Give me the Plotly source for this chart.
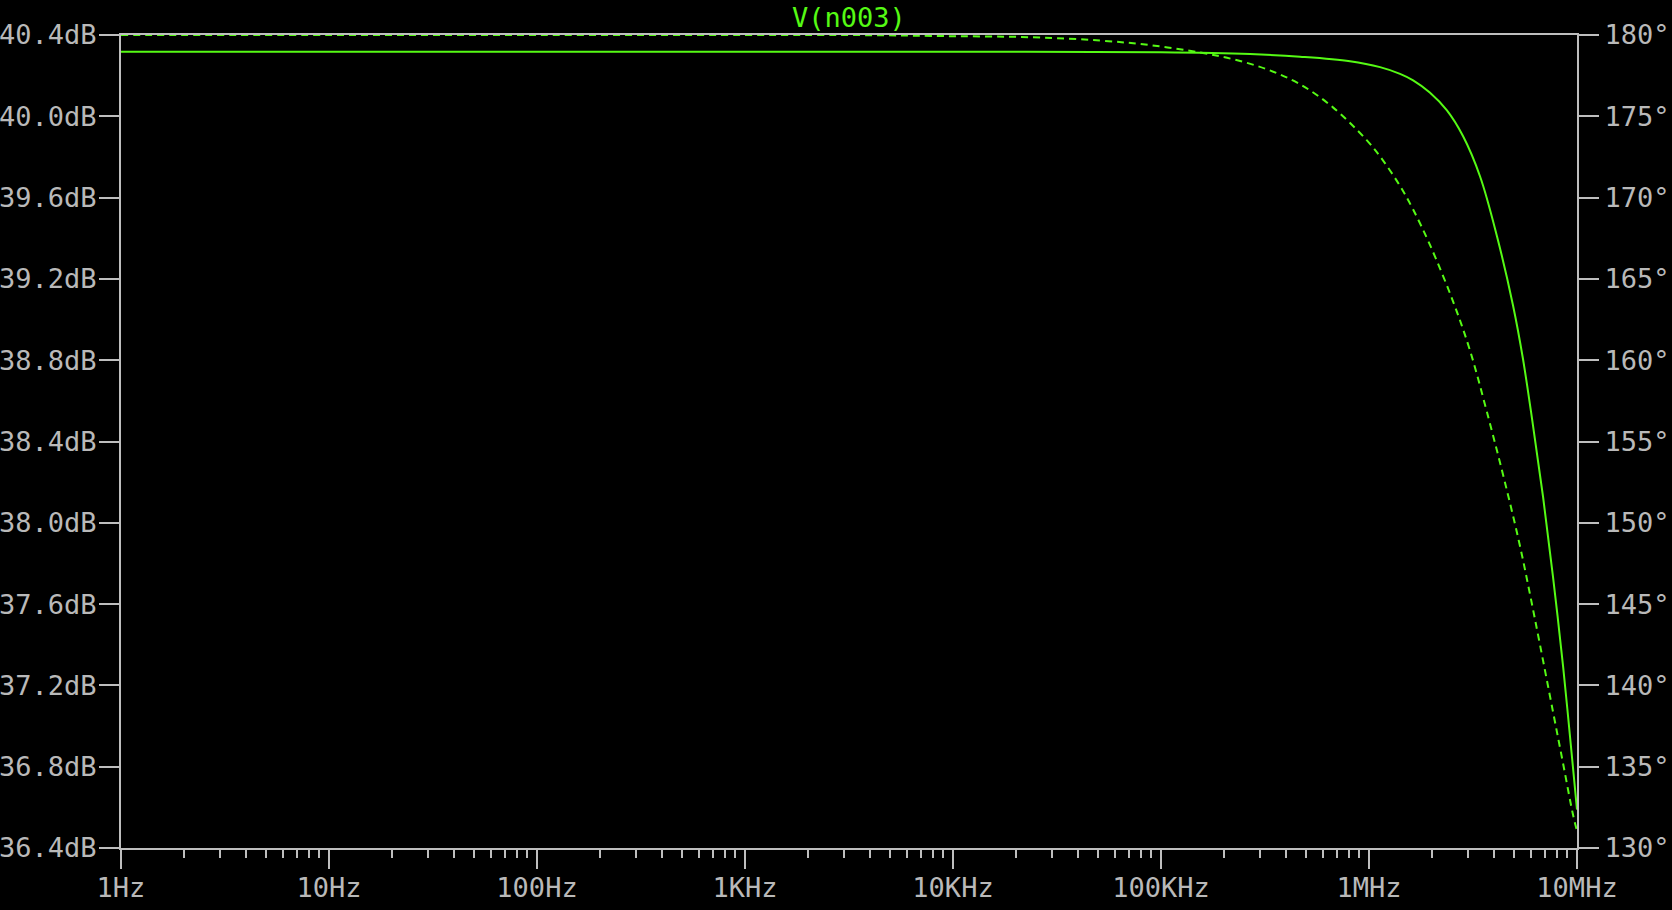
import plotly.graph_objects as go

# ---- data ----
freq_mag = [1, 10, 100, 1e3, 1e4, 1e5, 2.68e5, 4.66e5, 8.1e5, 1.13e6, 1.41e6, 1.63e6,
            1.96e6, 2.37e6, 2.83e6, 3.42e6, 4.12e6, 4.92e6, 5.5e6, 6.14e6, 6.87e6,
            7.67e6, 8.58e6, 9.25e6, 1e7]
mag_db = [40.318, 40.318, 40.318, 40.318, 40.318, 40.315, 40.306, 40.293, 40.271, 40.242,
          40.209, 40.177, 40.117, 40.029, 39.903, 39.704, 39.411, 39.072, 38.806, 38.481,
          38.127, 37.733, 37.29, 36.951, 36.589]

freq_ph = [1, 10, 100, 1e3, 4e3, 8e3, 2.42e4, 5.09e4, 8.85e4, 1.54e5, 2.22e5, 3.23e5,
           4.66e5, 6.71e5, 9.77e5, 1.167e6, 1.409e6, 1.628e6, 1.964e6, 2.535e6, 3.06e6,
           3.69e6, 4.61e6, 5.32e6, 5.94e6, 6.64e6, 7.67e6, 8.58e6, 9.57e6, 1e7]
phase_deg = [180, 180, 180, 180, 179.99, 179.94, 179.86, 179.66, 179.38, 178.92, 178.51,
             177.89, 176.97, 175.55, 173.52, 172.29, 170.72, 169.28, 167.09, 163.62,
             160.59, 156.81, 151.96, 148.57, 145.62, 142.49, 138.37, 135.17, 132.04, 131.05]

x_tickvals = [1, 10, 100, 1e3, 1e4, 1e5, 1e6, 1e7]
x_ticktext = ["1Hz", "10Hz", "100Hz", "1KHz", "10KHz", "100KHz", "1MHz", "10MHz"]
y_tickvals = [36.4, 36.8, 37.2, 37.6, 38.0, 38.4, 38.8, 39.2, 39.6, 40.0, 40.4]
y_ticktext = ["36.4dB", "36.8dB", "37.2dB", "37.6dB", "38.0dB", "38.4dB", "38.8dB",
              "39.2dB", "39.6dB", "40.0dB", "40.4dB"]
y2_tickvals = [130, 135, 140, 145, 150, 155, 160, 165, 170, 175, 180]
y2_ticktext = ["130°", "135°", "140°", "145°", "150°", "155°", "160°", "165°", "170°",
               "175°", "180°"]
title_text = "V(n003)"

# ---- style ----
GREEN = "rgb(85,250,20)"
GRAY = "rgb(190,190,190)"
TXT = "rgb(185,185,185)"
FONT = "DejaVu Sans Mono"
FS = 27

minor_vals = [m * 10 ** k for k in range(7) for m in range(2, 10)]

fig = go.Figure()
fig.add_trace(go.Scatter(x=freq_mag, y=mag_db, mode="lines", yaxis="y",
                         line=dict(color=GREEN, width=2, shape="spline", smoothing=1.0),
                         showlegend=False, hoverinfo="skip"))
fig.add_trace(go.Scatter(x=freq_ph, y=phase_deg, mode="lines", yaxis="y2",
                         line=dict(color=GREEN, width=2, dash="7px,5px",
                                   shape="spline", smoothing=1.0),
                         showlegend=False, hoverinfo="skip"))

axis_common = dict(showgrid=False, zeroline=False, showline=True, linecolor=GRAY,
                   linewidth=2, ticks="outside", tickcolor=GRAY, tickwidth=2,
                   automargin=False,
                   tickfont=dict(family=FONT, size=FS, color=TXT), layer="below traces")

fig.update_layout(
    width=1672, height=910,
    margin=dict(l=121, r=95, t=35, b=62),
    paper_bgcolor="black", plot_bgcolor="black",
    showlegend=False,
    xaxis=dict(type="log", range=[0, 7], tickmode="array", tickvals=x_tickvals,
               ticktext=x_ticktext, ticklen=19, mirror=True, ticklabelstandoff=-4,
               minor=dict(tickmode="array", tickvals=minor_vals, ticks="outside",
                          ticklen=8, tickwidth=2, tickcolor=GRAY, showgrid=False),
               **axis_common),
    yaxis=dict(range=[36.4, 40.4], tickmode="array", tickvals=y_tickvals,
               ticktext=y_ticktext, ticklen=20, side="left", ticklabelstandoff=-3,
               **axis_common),
    yaxis2=dict(range=[130, 180], tickmode="array", tickvals=y2_tickvals,
                ticktext=y2_ticktext, ticklen=20, side="right", overlaying="y",
                **axis_common),
    annotations=[dict(text=title_text, x=0.5, xref="paper", y=1, yref="paper",
                      yanchor="middle", yshift=18, showarrow=False,
                      font=dict(family=FONT, size=FS, color=GREEN))],
)

fig.write_html("out.html",
               config={"displayModeBar": False},
               post_script="document.body.style.margin='0';"
                           "document.body.style.padding='0';"
                           "document.body.style.background='black';"
                           "document.body.style.overflow='hidden';")
